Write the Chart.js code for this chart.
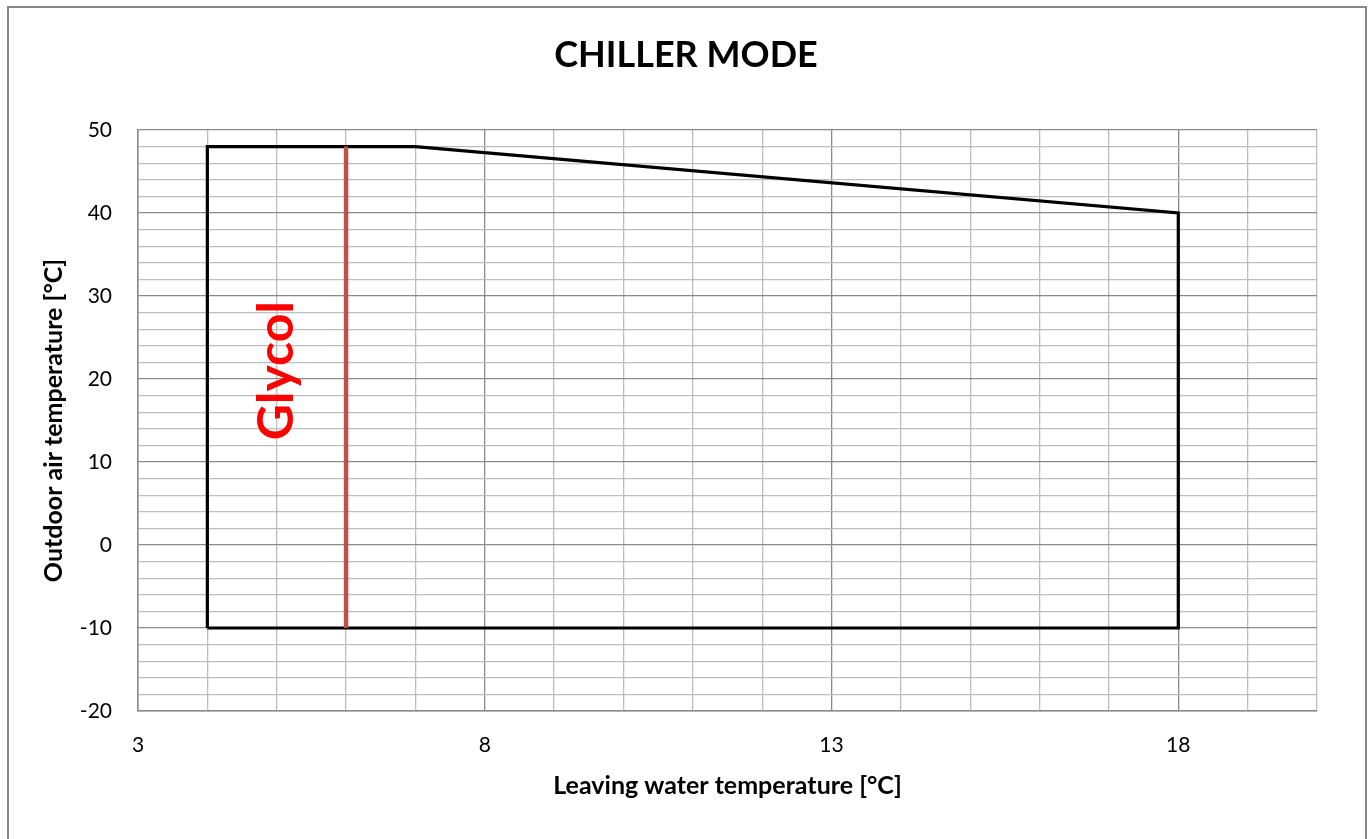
<!DOCTYPE html>
<html>
<head>
<meta charset="utf-8">
<script src="https://cdn.jsdelivr.net/npm/chart.js@4.4.1/dist/chart.umd.min.js"></script>
<style>
  html, body { margin: 0; padding: 0; background: #fff; }
  #wrap { position: relative; width: 1372px; height: 839px; overflow: hidden; }
  #frame { position: absolute; left: 7px; top: 6px; width: 1360px; height: 860px; border: 2px solid #878787; box-sizing: border-box; pointer-events: none; }
  canvas { position: absolute; left: 0; top: 0; }
</style>
</head>
<body>
<div id="wrap">
  <canvas id="c" width="1372" height="839"></canvas>
  <div id="frame"></div>
</div>
<script>
// Operating envelope (Leaving water temp °C, Outdoor air temp °C)
const envelopeX = [4, 4, 7, 18, 18, 4];
const envelopeY = [-10, 48, 48, 40, -10, -10];
// Glycol limit line
const glycolX = [6, 6];
const glycolY = [-10, 48];
const glycolLabel = "Glycol";
const glycolLabelPos = [5, 21];
const xTickLabels = [3, 8, 13, 18];
const yTickLabels = [-20, -10, 0, 10, 20, 30, 40, 50];
const xRange = [3, 20];
const yRange = [-20, 50];

const FONT = "Lato, 'Open Sans', sans-serif";

const toPts = (xs, ys) => xs.map((x, i) => ({ x: x, y: ys[i] }));

const labelPlugin = {
  id: 'glycolLabel',
  afterDatasetsDraw(chart) {
    const { ctx, scales } = chart;
    const px = scales.x.getPixelForValue(glycolLabelPos[0]);
    const py = scales.y.getPixelForValue(glycolLabelPos[1]);
    ctx.save();
    ctx.translate(px, py);
    ctx.rotate(-Math.PI / 2);
    ctx.fillStyle = '#FF0000';
    ctx.font = "bold 50px " + FONT;
    ctx.textAlign = 'center';
    ctx.textBaseline = 'middle';
    ctx.fillText(glycolLabel, 0, 0);
    ctx.restore();
  }
};

new Chart(document.getElementById('c'), {
  type: 'scatter',
  data: {
    datasets: [
      {
        data: toPts(envelopeX, envelopeY),
        showLine: true,
        borderColor: '#000000',
        borderWidth: 3.2,
        pointRadius: 0,
        fill: false,
        tension: 0,
        order: 2
      },
      {
        data: toPts(glycolX, glycolY),
        showLine: true,
        borderColor: '#C0504D',
        borderWidth: 4.5,
        pointRadius: 0,
        fill: false,
        order: 1
      }
    ]
  },
  options: {
    responsive: false,
    animation: false,
    devicePixelRatio: 1,
    layout: { padding: { left: 55, right: 55, top: 0, bottom: 20 } },
    plugins: {
      legend: { display: false },
      tooltip: { enabled: false },
      title: {
        display: true,
        text: 'CHILLER MODE',
        color: '#000',
        font: { family: FONT, size: 36, weight: 'bold', lineHeight: 1.2 },
        padding: { top: 33.4, bottom: 53.4 }
      }
    },
    scales: {
      x: {
        type: 'linear',
        min: xRange[0],
        max: xRange[1],
        afterBuildTicks(scale) {
          const t = [];
          for (let v = xRange[0]; v <= xRange[1]; v++) t.push({ value: v });
          scale.ticks = t;
        },
        afterFit(scale) { scale.height = 108; },
        ticks: {
          autoSkip: false,
          maxRotation: 0,
          padding: 22,
          color: '#000',
          font: { family: FONT, size: 21 },
          callback: (v) => xTickLabels.includes(v) ? String(v) : ''
        },
        grid: {
          drawTicks: false,
          lineWidth: 1.3,
          color: (ctx) => (ctx.tick && xTickLabels.includes(ctx.tick.value)) ? '#8a8a8a' : '#bdbdbd'
        },
        border: { display: true, color: '#8a8a8a', width: 1.5 },
        title: {
          display: true,
          text: 'Leaving water temperature [°C]',
          color: '#000',
          font: { family: FONT, size: 25, weight: 'bold', lineHeight: 1.2 },
          padding: { top: 0, bottom: 18 }
        }
      },
      y: {
        type: 'linear',
        min: yRange[0],
        max: yRange[1],
        afterBuildTicks(scale) {
          const t = [];
          for (let v = yRange[0]; v <= yRange[1]; v += 2) t.push({ value: v });
          scale.ticks = t;
        },
        afterFit(scale) { scale.width = 83; },
        ticks: {
          autoSkip: false,
          padding: 26,
          color: '#000',
          font: { family: FONT, size: 21 },
          callback: (v) => yTickLabels.includes(v) ? String(v) : ''
        },
        grid: {
          drawTicks: false,
          lineWidth: 1.3,
          color: (ctx) => (ctx.tick && yTickLabels.includes(ctx.tick.value)) ? '#8a8a8a' : '#bdbdbd'
        },
        border: { display: true, color: '#8a8a8a', width: 1.5 },
        title: {
          display: true,
          text: 'Outdoor air temperature [°C]',
          color: '#000',
          font: { family: FONT, size: 25, weight: 'bold', lineHeight: 1.2 },
          padding: { top: -16, bottom: 0 }
        }
      }
    }
  },
  plugins: [labelPlugin]
});
</script>
</body>
</html>
